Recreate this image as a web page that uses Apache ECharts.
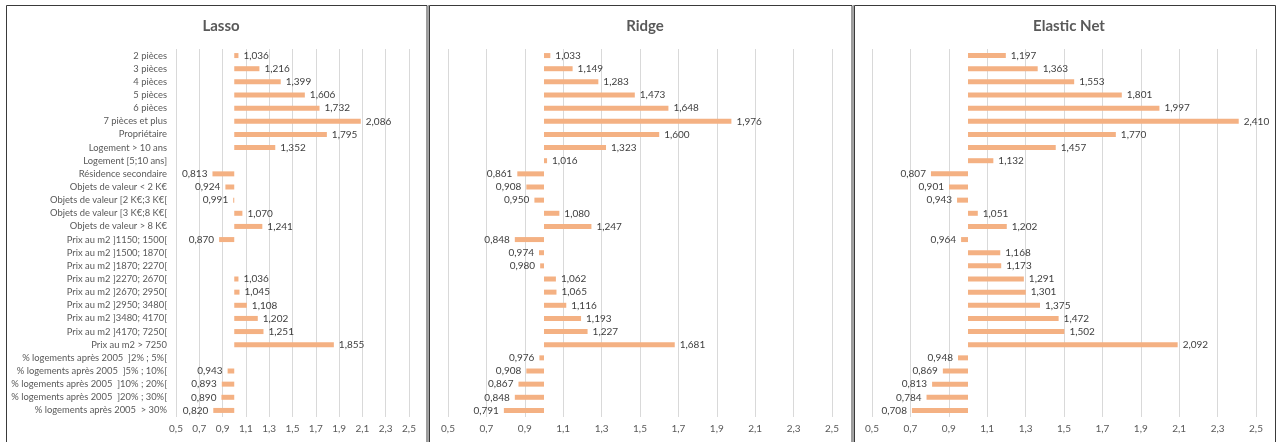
<!DOCTYPE html>
<html>
<head>
<meta charset="utf-8">
<script src="https://cdn.jsdelivr.net/npm/echarts@6/dist/echarts.min.js"></script>
<style>
  html, body { margin: 0; padding: 0; background: #ffffff; }
  #chart { width: 1276px; height: 442px; }
</style>
</head>
<body>
<div id="chart"></div>
<script>
// Variables of the model (rows, top to bottom)
const categories = [
  '2 pièces', '3 pièces', '4 pièces', '5 pièces', '6 pièces', '7 pièces et plus',
  'Propriétaire', 'Logement > 10 ans', 'Logement [5;10 ans]', 'Résidence secondaire',
  'Objets de valeur < 2 K€', 'Objets de valeur [2 K€;3 K€[', 'Objets de valeur [3 K€;8 K€[',
  'Objets de valeur > 8 K€', 'Prix au m2 ]1150; 1500[', 'Prix au m2 ]1500; 1870[',
  'Prix au m2 ]1870; 2270[', 'Prix au m2 ]2270; 2670[', 'Prix au m2 ]2670; 2950[',
  'Prix au m2 ]2950; 3480[', 'Prix au m2 ]3480; 4170[', 'Prix au m2 ]4170; 7250[',
  'Prix au m2 > 7250', '% logements après 2005  ]2% ; 5%[', '% logements après 2005  ]5% ; 10%[',
  '% logements après 2005  ]10% ; 20%[', '% logements après 2005  ]20% ; 30%[',
  '% logements après 2005  > 30%'
];

// Coefficients (relative effects) for each model; null = variable not retained
const lasso = [1.036, 1.216, 1.399, 1.606, 1.732, 2.086, 1.795, 1.352, null, 0.813,
  0.924, 0.991, 1.070, 1.241, 0.870, null, null, 1.036, 1.045, 1.108, 1.202, 1.251,
  1.855, null, 0.943, 0.893, 0.890, 0.820];
const ridge = [1.033, 1.149, 1.283, 1.473, 1.648, 1.976, 1.600, 1.323, 1.016, 0.861,
  0.908, 0.950, 1.080, 1.247, 0.848, 0.974, 0.980, 1.062, 1.065, 1.116, 1.193, 1.227,
  1.681, 0.976, 0.908, 0.867, 0.848, 0.791];
const elasticNet = [1.197, 1.363, 1.553, 1.801, 1.997, 2.410, 1.770, 1.457, 1.132, 0.807,
  0.901, 0.943, 1.051, 1.202, 0.964, 1.168, 1.173, 1.291, 1.301, 1.375, 1.472, 1.502,
  2.092, 0.948, 0.869, 0.813, 0.784, 0.708];

const panelTitles = ['Lasso', 'Ridge', 'Elastic Net'];
const xTicks = { min: 0.5, max: 2.5, interval: 0.2 };
const baseline = 1;

const FONT = 'Lato, "Open Sans", sans-serif';
const TEXT = '#595959';
const BAR = '#F4B183';

const panels = [
  { data: lasso, left: 176, width: 233, center: 216 },
  { data: ridge, left: 448, width: 384, center: 640 },
  { data: elasticNet, left: 872, width: 384, center: 1064 }
];

const fmt = v => v.toFixed(3).replace('.', ',');

const grids = [], xAxes = [], yAxes = [], series = [], titles = [];
panels.forEach((p, i) => {
  grids.push({ left: p.left, width: p.width, top: 49, height: 368, containLabel: false });
  titles.push({
    text: panelTitles[i], left: p.center, top: 14, textAlign: 'center',
    textStyle: { fontFamily: FONT, fontSize: 15, fontWeight: 'bold', color: TEXT }
  });
  xAxes.push({
    gridIndex: i, type: 'value', min: xTicks.min, max: xTicks.max, interval: xTicks.interval,
    axisLine: { show: false }, axisTick: { show: false },
    splitLine: { show: true, lineStyle: { color: '#d9d9d9', width: 1 } },
    axisLabel: {
      fontFamily: FONT, fontSize: 10, color: TEXT, margin: 7,
      formatter: v => (Math.round(v * 10) / 10).toFixed(1).replace('.', ',')
    }
  });
  yAxes.push({
    gridIndex: i, type: 'category', data: categories, inverse: true,
    axisLine: { show: false }, axisTick: { show: false }, splitLine: { show: false },
    axisLabel: {
      show: i === 0, fontFamily: FONT, fontSize: 9.4, color: TEXT, margin: 9, interval: 0
    }
  });
  // invisible offset so that each bar starts at the baseline value 1
  series.push({
    type: 'bar', xAxisIndex: i, yAxisIndex: i, stack: 'p' + i, barWidth: 5,
    silent: true, itemStyle: { color: 'rgba(0,0,0,0)' },
    data: p.data.map(v => v == null ? null : Math.min(v, baseline))
  });
  series.push({
    type: 'bar', xAxisIndex: i, yAxisIndex: i, stack: 'p' + i, barWidth: 5,
    itemStyle: { color: BAR },
    data: p.data.map(v => v == null ? null : {
      value: Math.abs(v - baseline),
      label: {
        show: true, position: v >= baseline ? 'right' : 'left', distance: 5,
        formatter: () => fmt(v), fontFamily: FONT, fontSize: 10, color: '#404040'
      }
    })
  });
});

const chart = echarts.init(document.getElementById('chart'), null, { renderer: 'canvas' });
chart.setOption({
  animation: false,
  title: titles,
  grid: grids,
  xAxis: xAxes,
  yAxis: yAxes,
  series: series,
  graphic: [
    { type: 'rect', shape: { x: 6.5, y: 5.5, width: 420.5, height: 450 }, style: { fill: 'none', stroke: '#3a3a3a', lineWidth: 1 } },
    { type: 'line', shape: { x1: 428.5, y1: 5, x2: 428.5, y2: 442 }, style: { stroke: '#a6a6a6', lineWidth: 1 } },
    { type: 'rect', shape: { x: 429.5, y: 5.5, width: 422.5, height: 450 }, style: { fill: 'none', stroke: '#3a3a3a', lineWidth: 1 } },
    { type: 'line', shape: { x1: 853.5, y1: 5, x2: 853.5, y2: 442 }, style: { stroke: '#a6a6a6', lineWidth: 1 } },
    { type: 'rect', shape: { x: 854.5, y: 5.5, width: 421, height: 450 }, style: { fill: 'none', stroke: '#3a3a3a', lineWidth: 1 } }
  ]
});
</script>
</body>
</html>
